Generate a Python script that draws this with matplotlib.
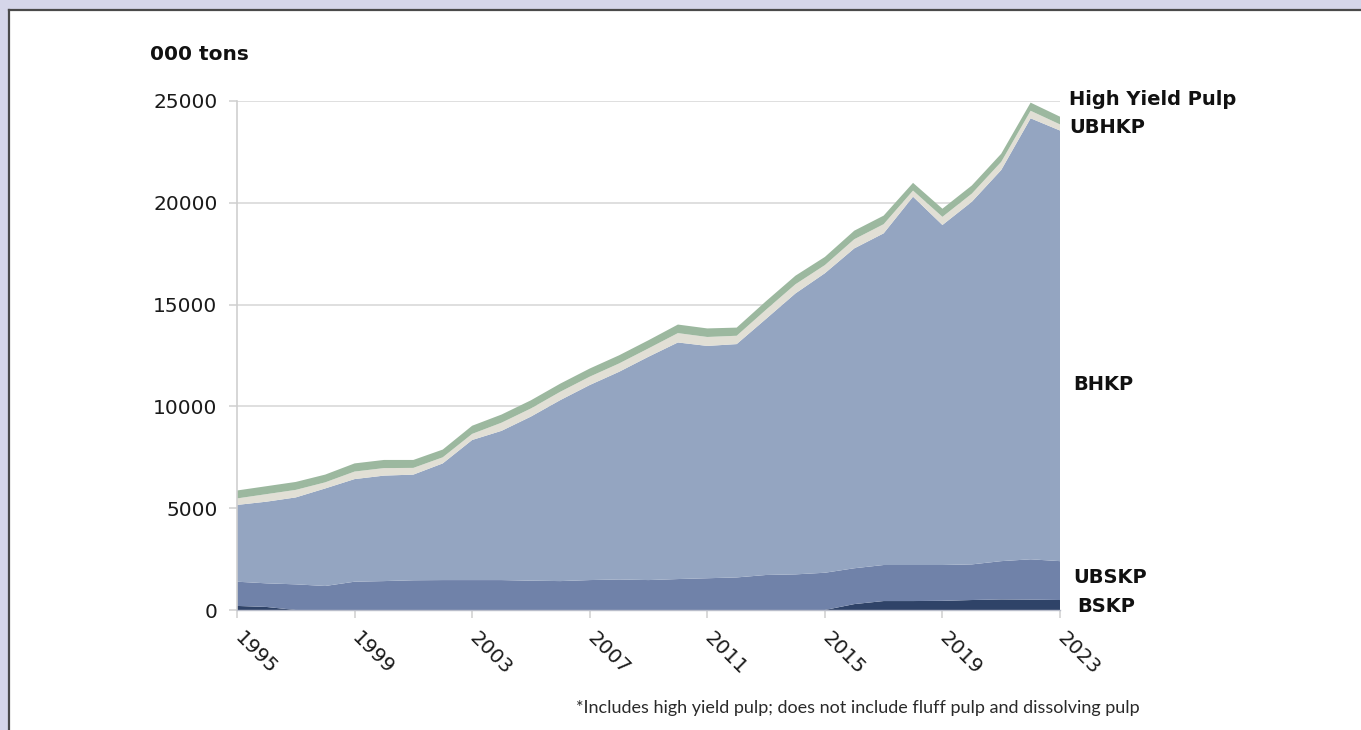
import matplotlib
matplotlib.use("Agg")
import matplotlib.pyplot as plt
from matplotlib.patches import Rectangle
from matplotlib.lines import Line2D
from matplotlib.transforms import ScaledTranslation

# ---- data (000 tons) ----
years = list(range(1995, 2024))
bskp = [200, 150, 0, 0, 0, 0, 0, 0, 0, 0, 0, 0, 0, 0, 0, 0, 0, 0, 0, 0, 0,
        290, 440, 440, 450, 490, 520, 510, 490]
ubskp = [1190, 1160, 1260, 1180, 1390, 1420, 1460, 1470, 1470, 1470, 1440, 1420,
         1470, 1500, 1470, 1520, 1560, 1600, 1720, 1750, 1830, 1760, 1770, 1770,
         1760, 1750, 1880, 1980, 1910]
bhkp = [3770, 4010, 4270, 4790, 5040, 5180, 5190, 5730, 6880, 7330, 8060, 8890,
        9580, 10200, 10970, 11620, 11410, 11460, 12580, 13800, 14710, 15710,
        16290, 18090, 16700, 17810, 19210, 21660, 21150]
ubhkp = [320, 370, 370, 300, 370, 370, 330, 300, 300, 400, 400, 410, 410, 410,
         410, 460, 440, 410, 450, 450, 400, 450, 450, 300, 400, 400, 400, 370, 300]
hyp = [390, 390, 390, 380, 400, 400, 390, 380, 400, 400, 400, 400, 400, 400, 400,
       420, 420, 400, 420, 420, 400, 420, 420, 380, 400, 400, 400, 400, 380]
series_names = ["BSKP", "UBSKP", "BHKP", "UBHKP", "High Yield Pulp"]
colors = ["#2f4368", "#7082a9", "#94a5c1", "#e1dfd5", "#9cb89f"]
xtick_years = [1995, 1999, 2003, 2007, 2011, 2015, 2019, 2023]
ytick_vals = [0, 5000, 10000, 15000, 20000, 25000]

W, H = 1361, 730
fig = plt.figure(figsize=(W / 100, H / 100), dpi=100, facecolor="#d5d6e9")

# white panel with dark left/top border
fig.patches.append(Rectangle((9 / W, 0), 1, (H - 10) / H, transform=fig.transFigure,
                             facecolor="white", edgecolor="none", zorder=-5))
fig.lines.append(Line2D([9 / W, 9 / W], [0, (H - 10) / H], transform=fig.transFigure,
                        color="#4a4a4a", lw=1.6, zorder=-4))
fig.lines.append(Line2D([9 / W, 1], [(H - 10) / H, (H - 10) / H], transform=fig.transFigure,
                        color="#4a4a4a", lw=1.6, zorder=-4))

ax = fig.add_axes([237 / W, 1 - 610 / H, (1060 - 237) / W, (610 - 101) / H])
ax.set_zorder(2)
ax.set_facecolor("white")
ax.stackplot(years, bskp, ubskp, bhkp, ubhkp, hyp, colors=colors, lw=0,
             labels=series_names, zorder=2)

ax.set_xlim(1995, 2023)
ax.set_ylim(0, 25000)
ax.set_yticks(ytick_vals)
ax.set_yticklabels([str(v) for v in ytick_vals])
ax.set_xticks(xtick_years)
ax.set_xticklabels([str(y) for y in xtick_years])
ax.yaxis.grid(True, color="#d9d9d9", lw=1.2)
ax.set_axisbelow(True)

for s in ["top", "right"]:
    ax.spines[s].set_visible(False)
ax.spines["left"].set_color("#cfcfcf")
ax.spines["left"].set_linewidth(1.2)
ax.spines["bottom"].set_color("#b9bdca")
ax.spines["bottom"].set_linewidth(1.0)
ax.spines["bottom"].set_zorder(3)

ax.tick_params(axis="y", length=6, width=1.1, color="#cfcfcf", pad=8,
               labelsize=14.5, labelcolor="#1a1a1a")
ax.tick_params(axis="x", length=6, width=1.1, color="#cfcfcf", pad=6,
               labelsize=14.5, labelcolor="#1a1a1a")
for lab in ax.get_xticklabels():
    lab.set_rotation(-45)
    lab.set_ha("left")
    lab.set_va("top")
    lab.set_rotation_mode("anchor")
    lab.set_transform(lab.get_transform() + ScaledTranslation(7 / 100, -2 / 100, fig.dpi_scale_trans))

def px(x, y):
    return x / W, 1 - y / H

fig.text(*px(150, 60), "000 tons", fontsize=14.5, fontweight="bold", color="#111",
         ha="left", va="baseline")

right_labels = [("High Yield Pulp", 1069, 105), ("UBHKP", 1069, 133),
                ("BHKP", 1073, 390), ("UBSKP", 1073, 583), ("BSKP", 1077, 612)]
for txt, x, y in right_labels:
    fig.text(*px(x, y), txt, fontsize=14, fontweight="bold", color="#111",
             ha="left", va="baseline")

fig.text(*px(1140, 713), "*Includes high yield pulp; does not include fluff pulp and dissolving pulp",
         family="Lato", fontsize=13, color="#2a2a2a", ha="right", va="baseline")

fig.savefig("out.png", dpi=100, facecolor=fig.get_facecolor())
